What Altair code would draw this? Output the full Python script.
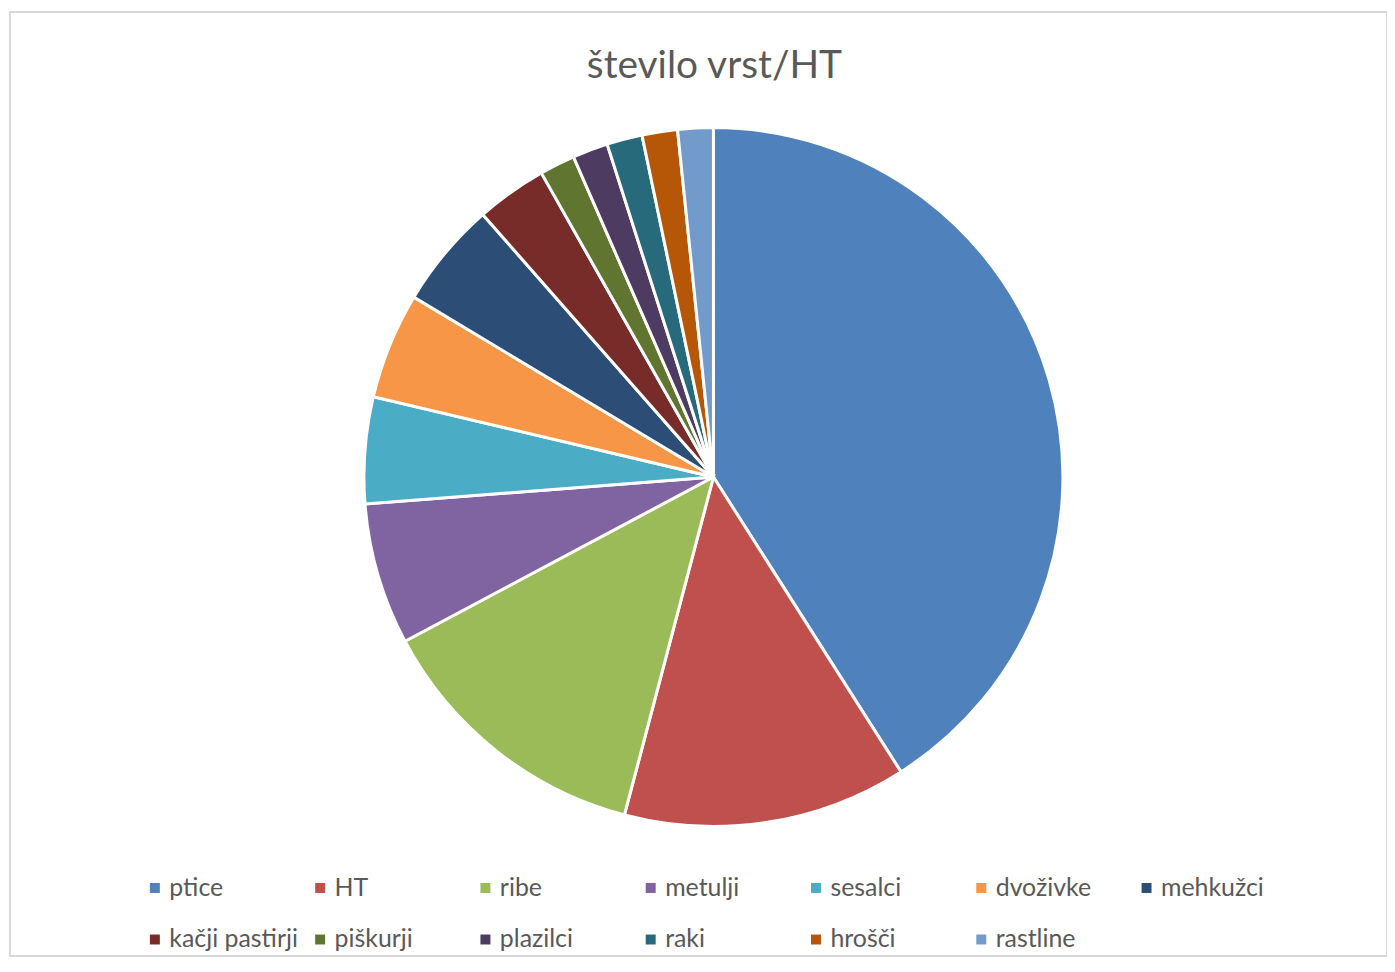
import altair as alt
import pandas as pd

categories = ["ptice", "HT", "ribe", "metulji", "sesalci", "dvoživke", "mehkužci",
              "kačji pastirji", "piškurji", "plazilci", "raki", "hrošči", "rastline"]
counts = [25, 8, 8, 4, 3, 3, 3, 2, 1, 1, 1, 1, 1]
colors = ["#4F81BD", "#C0504D", "#9BBB59", "#8064A2", "#4BACC6", "#F79646", "#2C4D75",
          "#772C2A", "#5F7530", "#4D3B62", "#276A7C", "#B65708", "#729ACA"]
title_text = "število vrst/HT"

df = pd.DataFrame({"vrsta": categories, "stevilo": counts, "idx": list(range(len(categories)))})

chart = alt.Chart(df).mark_arc(
    outerRadius=351, stroke="white", strokeWidth=3, xOffset=15, yOffset=-7
).encode(
    theta=alt.Theta("stevilo:Q", stack=True),
    color=alt.Color(
        "vrsta:N",
        scale=alt.Scale(domain=categories, range=colors),
        sort=categories,
        legend=alt.Legend(
            title=None, orient="none", legendX=133, legendY=867,
            direction="horizontal", columns=7, gridAlign="all",
            symbolType="square", symbolSize=100, symbolStrokeWidth=0, symbolOpacity=1,
            labelFont="Lato", labelFontSize=25, labelColor="#595959", labelOffset=2,
            columnPadding=9, rowPadding=26, padding=0, labelLimit=400,
        ),
    ),
    order=alt.Order("idx:Q"),
    tooltip=["vrsta:N", "stevilo:Q"],
).properties(
    width=1383, height=948,
    padding={"left": 2, "top": 2, "right": 0, "bottom": 0},
    autosize="none",
    view=alt.ViewBackground(style="cell"),
    title=alt.TitleParams(
        title_text, fontSize=39, font="Lato", fontWeight="normal", color="#595959",
        anchor="middle", offset=-105, baseline="alphabetic", dx=16,
    ),
).configure_view(stroke="#D9D9D9", strokeWidth=2)

chart.save("out.html", embed_options={"renderer": "svg", "actions": False})
